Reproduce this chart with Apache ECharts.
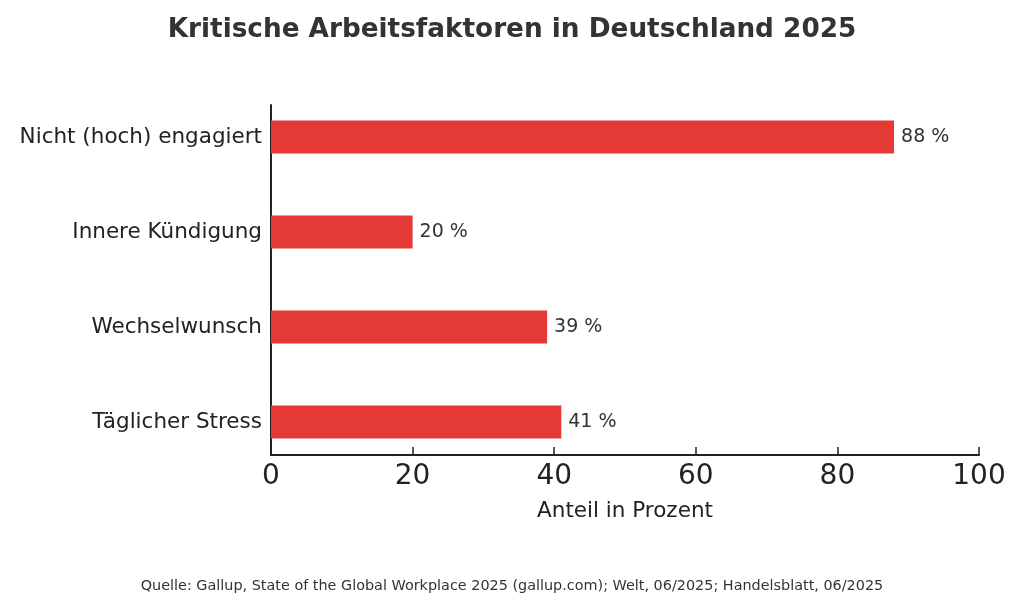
<!DOCTYPE html>
<html>
<head>
<meta charset="utf-8">
<script src="https://cdn.jsdelivr.net/npm/echarts@6/dist/echarts.min.js"></script>
<style>html,body{margin:0;padding:0;background:#fff;}#c{width:1024px;height:611px;}</style>
</head>
<body>
<div id="c"></div>
<script>
var categories = ['Nicht (hoch) engagiert', 'Innere Kündigung', 'Wechselwunsch', 'Täglicher Stress'];
var values = [88, 20, 39, 41];
var xTicks = [0, 20, 40, 60, 80, 100];

var FONT = 'DejaVu Sans';
var chart = echarts.init(document.getElementById('c'));
chart.setOption({
  backgroundColor: '#ffffff',
  animation: false,
  textStyle: { fontFamily: FONT },
  title: [{
    text: 'Kritische Arbeitsfaktoren in Deutschland 2025',
    left: 'center', top: 12,
    textStyle: { fontFamily: FONT, fontSize: 26.3, fontWeight: 'bold', color: '#333333' }
  }, {
    text: 'Quelle: Gallup, State of the Global Workplace 2025 (gallup.com); Welt, 06/2025; Handelsblatt, 06/2025',
    left: 'center', top: 574,
    textStyle: { fontFamily: FONT, fontSize: 14.4, fontWeight: 'normal', color: '#333333' }
  }],
  grid: [
    { left: 271, width: 708, top: 89.5, height: 380, containLabel: false },
    { left: 271, width: 708, top: 105, height: 350, containLabel: false }
  ],
  xAxis: [{
    gridIndex: 0, type: 'value', min: 0, max: 100, interval: 20, show: false
  }, {
    gridIndex: 1, type: 'value', min: xTicks[0], max: xTicks[xTicks.length - 1], interval: 20,
    axisLine: { show: true, lineStyle: { color: '#222222', width: 2 } },
    axisTick: { show: true, inside: true, length: 8, lineStyle: { color: '#222222', width: 1.5 } },
    axisLabel: { fontFamily: FONT, fontSize: 28, color: '#222222', margin: 8 },
    splitLine: { show: false },
    name: 'Anteil in Prozent', nameLocation: 'middle', nameGap: 45,
    nameTextStyle: { fontFamily: FONT, fontSize: 21.5, color: '#222222' }
  }],
  yAxis: [{
    gridIndex: 0, type: 'category', data: categories, inverse: true,
    axisLine: { show: false },
    axisTick: { show: true, inside: true, alignWithLabel: true, length: 7, lineStyle: { color: '#222222', width: 1.5 } },
    axisLabel: { fontFamily: FONT, fontSize: 21.5, color: '#222222', margin: 9 },
    splitLine: { show: false }
  }, {
    gridIndex: 1, type: 'value', min: 0, max: 1,
    axisLine: { show: true, lineStyle: { color: '#222222', width: 2 } },
    axisTick: { show: false }, axisLabel: { show: false }, splitLine: { show: false }
  }],
  series: [{
    type: 'bar', xAxisIndex: 0, yAxisIndex: 0,
    data: values, barWidth: 33,
    itemStyle: { color: '#E53935' },
    label: {
      show: true, position: 'right', distance: 7,
      formatter: function (p) { return p.value + ' %'; },
      fontFamily: FONT, fontSize: 19, color: '#333333'
    }
  }]
});
</script>
</body>
</html>
